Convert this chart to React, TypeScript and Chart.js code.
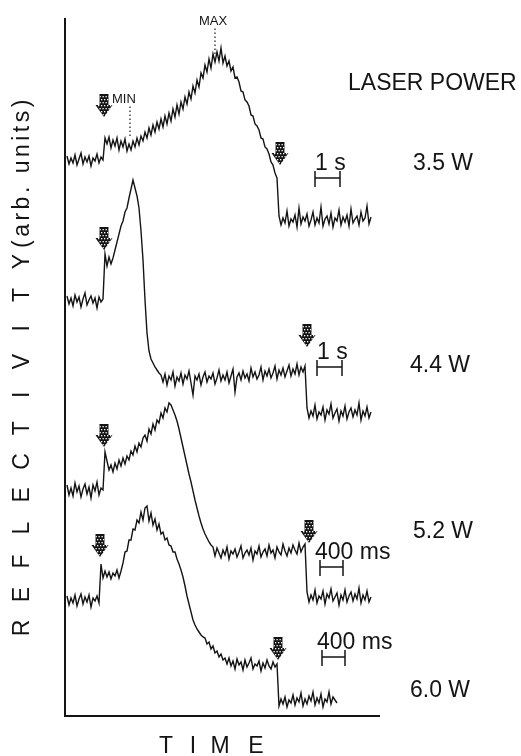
import React, { useEffect, useRef } from "react";
import { Chart, registerables } from "chart.js";

Chart.register(...registerables);

// Time axis (arbitrary units), samples every T_STEP starting at T_START
const T_START = 2;
const T_STEP = 2;
const T_MAX = 315;
const R_MAX = 698;

const POWER_LABELS = ["3.5 W", "4.4 W", "5.2 W", "6.0 W"];

// Reflectivity traces (arb. units), vertically offset as in the original figure
const TRACE_35W = [
  560, 552, 558, 553, 561, 551, 557, 563, 552, 559, 554, 560, 550, 558, 555, 562, 553, 559, 556,
  578,
  572, 579, 568, 576, 570, 578, 566, 575, 569, 577, 565, 572,
  566, 575, 569, 578, 571, 580, 575, 584,
  578, 588, 581, 591, 584, 594, 587,
  597, 589, 600, 592, 603, 595, 607, 599,
  611, 602, 614, 607, 619, 612,
  624, 617, 630, 623,
  636, 629, 643,
  638, 651, 644,
  657, 648, 662, 654,
  664, 655, 668, 653, 660, 650,
  655, 645, 649, 638, 639,
  634, 625, 624, 616, 614,
  610, 601, 600, 592, 590,
  586, 578, 577, 569, 567,
  562, 554, 551, 543, 538,
  500, 491, 498, 493, 505, 490, 497, 494, 501, 489, 508, 492, 499, 495, 502, 490, 496, 504, 491, 498,
  493, 509, 490, 497, 500, 492, 503, 489, 498, 495, 506, 491, 499, 494, 501, 490, 507, 493, 497, 500,
  491, 504, 495, 498, 510, 492, 499,
];

const TRACE_44W = [
  420, 412, 418, 410, 421, 414, 419, 409, 417, 423, 411, 416, 420, 413, 418, 408, 419, 414, 417,
  462,
  450, 459, 452,
  458, 466, 474, 482,
  490, 495, 504, 508,
  518, 527,
  536,
  528, 520, 508, 485, 456, 416, 383, 365, 357, 353, 349, 346, 343, 341,
  334, 342, 331, 340, 336, 344, 330, 339, 335, 343,
  332, 341, 337, 345, 333, 321, 340, 336, 342, 331,
  339, 344, 334, 340, 337, 343, 332, 338, 346, 335,
  341, 336, 344, 333, 340, 347, 324, 339, 343, 336,
  345, 338, 342, 335, 348, 339, 344, 337, 341, 349,
  336, 345, 340, 347, 338, 343, 350, 337, 346, 341,
  348, 339, 345, 351, 340, 347, 342, 352, 341, 349,
  344, 350,
  308, 298, 305, 300, 311, 297, 304, 301, 309, 296,
  306, 302, 312, 298, 303, 307, 295, 305, 300, 310,
  297, 304, 308, 299, 306, 301, 313, 296, 305, 300,
  309, 298, 304,
];

const TRACE_52W = [
  231, 221, 228, 220, 233, 224, 230, 219, 227, 232, 222, 229, 218, 231, 225, 234, 221, 228, 226,
  264,
  255, 246, 251,
  244, 253, 247, 256, 250, 258, 252, 260,
  256, 265, 261, 270, 264, 273, 269, 278,
  281, 275, 287, 282, 292, 286, 296,
  293, 303, 298, 308, 304, 313,
  311, 306, 301, 295, 287, 278, 269, 260, 251, 242, 234, 225, 216, 208, 200, 193, 187, 182, 178, 174, 171, 169,
  160, 168, 163, 158, 166, 161, 169, 157, 165, 162,
  167, 159, 164, 170, 158, 163, 166, 161, 168, 156,
  165, 162, 170, 159, 164, 167, 160, 171, 163, 166,
  158, 169, 164, 161, 172, 165, 160, 168, 163, 171,
  166, 162, 173, 164, 169, 172,
  124, 114, 121, 116, 126, 113, 120, 117, 125, 112,
  122, 118, 127, 115, 119, 123, 111, 121, 116, 126,
  114, 120, 124, 115, 122, 117, 128, 113, 121, 116,
  125, 114, 119,
];

const TRACE_60W = [
  120, 111, 118, 113, 121, 110, 117, 122, 112, 119, 114, 121, 109, 118, 115, 120, 113,
  152,
  138, 145, 139, 144, 137, 143, 140, 146, 138, 145,
  153, 164, 165, 176,
  176, 187, 186, 196,
  193, 204, 196, 208,
  210, 195, 203, 191, 197,
  186, 192, 182, 184, 176,
  178, 171, 170, 164, 164, 157,
  152, 146, 139, 130, 120, 112, 104, 96, 91, 87, 84, 81, 79,
  78, 72, 74, 67, 70, 63, 65, 59, 62, 56, 58,
  52, 58, 50, 55, 47, 57, 51, 54, 46, 56, 49, 53, 58, 47, 52, 50, 55, 45, 53, 48, 56, 50, 47, 54, 49, 52,
  10, 17, 12, 19, 9, 16, 13, 21, 11, 18, 14, 23, 10, 17, 12, 20, 15, 24, 11, 18,
  13, 22, 9, 17, 14, 24, 12, 19, 16, 13,
];

const TRACES = [TRACE_35W, TRACE_44W, TRACE_52W, TRACE_60W];

// Laser on / off markers (time, and level of the arrow tip)
const ARROW_ON_T = [39, 39, 39, 35];
const ARROW_OFF_T = [215, 242, 244, 213];
const ARROW_ON_TIP = [599, 466, 269, 159];
const ARROW_OFF_TIP = [551, 369, 173, 56];

// Time scale bars
const SCALE_LABELS = ["1 s", "1 s", "400 ms", "400 ms"];
const SCALE_START = [250, 252, 255, 257];
const SCALE_LEN = [25, 25, 23, 23];
const SCALE_LEVEL = [538, 349, 149, 59];

// MIN / MAX marks on the 3.5 W trace
const MIN_T = 65;
const MAX_T = 150;
const MIN_LEVEL = [580, 612];
const MAX_LEVEL = [662, 688];

const FONT = "'Liberation Sans', 'DejaVu Sans', Arial, sans-serif";
const INK = "#141414";

function drawArrow(ctx: CanvasRenderingContext2D, cx: number, tipY: number) {
  const h = 23;
  const w = 17;
  const sw = 9;
  const headH = 12;
  ctx.save();
  ctx.beginPath();
  ctx.moveTo(cx - sw / 2, tipY - h);
  ctx.lineTo(cx + sw / 2, tipY - h);
  ctx.lineTo(cx + sw / 2, tipY - headH);
  ctx.lineTo(cx + w / 2, tipY - headH);
  ctx.lineTo(cx, tipY);
  ctx.lineTo(cx - w / 2, tipY - headH);
  ctx.lineTo(cx - sw / 2, tipY - headH);
  ctx.closePath();
  ctx.fillStyle = INK;
  ctx.fill();
  ctx.clip();
  ctx.fillStyle = "#ffffff";
  let row = 0;
  for (let yy = tipY - h + 2; yy < tipY - 1; yy += 3) {
    for (let xx = cx - w / 2 + (row % 2) * 1.5 + 1; xx < cx + w / 2; xx += 3) {
      ctx.fillRect(xx, yy, 1.3, 1.3);
    }
    row++;
  }
  ctx.restore();
}

const annotationPlugin = {
  id: "figureAnnotations",
  afterDraw(chart: any) {
    const { ctx, chartArea, scales } = chart;
    const xs = scales.x;
    const ys = scales.y;
    ctx.save();

    // axes frame (left and bottom)
    ctx.strokeStyle = INK;
    ctx.lineWidth = 2;
    ctx.beginPath();
    ctx.moveTo(chartArea.left, chartArea.top);
    ctx.lineTo(chartArea.left, chartArea.bottom);
    ctx.lineTo(chartArea.right, chartArea.bottom);
    ctx.stroke();

    // arrows
    for (let i = 0; i < TRACES.length; i++) {
      drawArrow(ctx, xs.getPixelForValue(ARROW_ON_T[i]), ys.getPixelForValue(ARROW_ON_TIP[i]));
      drawArrow(ctx, xs.getPixelForValue(ARROW_OFF_T[i]), ys.getPixelForValue(ARROW_OFF_TIP[i]));
    }

    // MIN / MAX
    ctx.fillStyle = INK;
    ctx.strokeStyle = INK;
    ctx.lineWidth = 1.2;
    ctx.setLineDash([1.5, 2.5]);
    ctx.beginPath();
    ctx.moveTo(xs.getPixelForValue(MIN_T), ys.getPixelForValue(MIN_LEVEL[0]));
    ctx.lineTo(xs.getPixelForValue(MIN_T), ys.getPixelForValue(MIN_LEVEL[1]));
    ctx.moveTo(xs.getPixelForValue(MAX_T), ys.getPixelForValue(MAX_LEVEL[0]));
    ctx.lineTo(xs.getPixelForValue(MAX_T), ys.getPixelForValue(MAX_LEVEL[1]));
    ctx.stroke();
    ctx.setLineDash([]);
    ctx.font = `13px ${FONT}`;
    ctx.textBaseline = "alphabetic";
    ctx.textAlign = "left";
    ctx.fillText("MIN", xs.getPixelForValue(MIN_T) - 18, ys.getPixelForValue(MIN_LEVEL[1]) - 1);
    ctx.textAlign = "center";
    ctx.fillText("MAX", xs.getPixelForValue(MAX_T) - 2, ys.getPixelForValue(MAX_LEVEL[1]) - 3);

    // time scale bars
    ctx.lineWidth = 1.5;
    ctx.font = `23px ${FONT}`;
    ctx.textAlign = "left";
    for (let i = 0; i < TRACES.length; i++) {
      const x0 = xs.getPixelForValue(SCALE_START[i]);
      const x1 = xs.getPixelForValue(SCALE_START[i] + SCALE_LEN[i]);
      const y = ys.getPixelForValue(SCALE_LEVEL[i]);
      ctx.beginPath();
      ctx.moveTo(x0, y);
      ctx.lineTo(x1, y);
      ctx.moveTo(x0, y - 7);
      ctx.lineTo(x0, y + 9);
      ctx.moveTo(x1, y - 7);
      ctx.lineTo(x1, y + 9);
      ctx.stroke();
      const lx = SCALE_LABELS[i].length > 3 ? x0 - 5 : x0;
      ctx.fillText(SCALE_LABELS[i], lx, y - 8);
    }

    // power labels
    ctx.font = `23px ${FONT}`;
    ctx.textAlign = "left";
    ctx.fillText("LASER POWER", 348, 90);
    const powerX = [413, 410, 413, 410];
    const powerY = [170, 372, 538, 697];
    for (let i = 0; i < POWER_LABELS.length; i++) {
      ctx.fillText(POWER_LABELS[i], powerX[i], powerY[i]);
    }

    // x-axis title
    ctx.textAlign = "center";
    const timeChars = ["T", "I", "M", "E"];
    const timeX = [166, 193, 220, 256];
    for (let i = 0; i < timeChars.length; i++) {
      ctx.fillText(timeChars[i], timeX[i], 753);
    }

    // y-axis title (rotated)
    const word = "REFLECTIVITY".split("");
    for (let i = 0; i < word.length; i++) {
      const cy = 628 - i * 33.3;
      ctx.save();
      ctx.translate(29, cy);
      ctx.rotate(-Math.PI / 2);
      ctx.textAlign = "center";
      ctx.fillText(word[i], 0, 0);
      ctx.restore();
    }
    ctx.save();
    ctx.translate(29, 248);
    ctx.rotate(-Math.PI / 2);
    ctx.textAlign = "left";
    (ctx as any).letterSpacing = "3.5px";
    ctx.fillText("(arb. units)", 0, 0);
    ctx.restore();

    ctx.restore();
  },
};

export default function App() {
  const canvasRef = useRef<HTMLCanvasElement | null>(null);

  useEffect(() => {
    if (!canvasRef.current) return;
    const datasets = TRACES.map((trace, k) => ({
      label: POWER_LABELS[k],
      data: trace.map((r, i) => ({ x: T_START + i * T_STEP, y: r })),
      borderColor: INK,
      borderWidth: 1.4,
      pointRadius: 0,
      tension: 0,
      fill: false,
    }));
    const chart = new Chart(canvasRef.current, {
      type: "line",
      data: { datasets },
      options: {
        animation: false,
        responsive: true,
        maintainAspectRatio: false,
        layout: { padding: { left: 65, top: 18, right: 141, bottom: 40 } },
        plugins: { legend: { display: false }, tooltip: { enabled: false } },
        scales: {
          x: { type: "linear", min: 0, max: T_MAX, display: false },
          y: { type: "linear", min: 0, max: R_MAX, display: false },
        },
      },
      plugins: [annotationPlugin],
    });
    return () => chart.destroy();
  }, []);

  return (
    <div style={{ position: "fixed", left: 0, top: 0, width: 521, height: 756, background: "#fff" }}>
      <canvas ref={canvasRef} />
    </div>
  );
}
